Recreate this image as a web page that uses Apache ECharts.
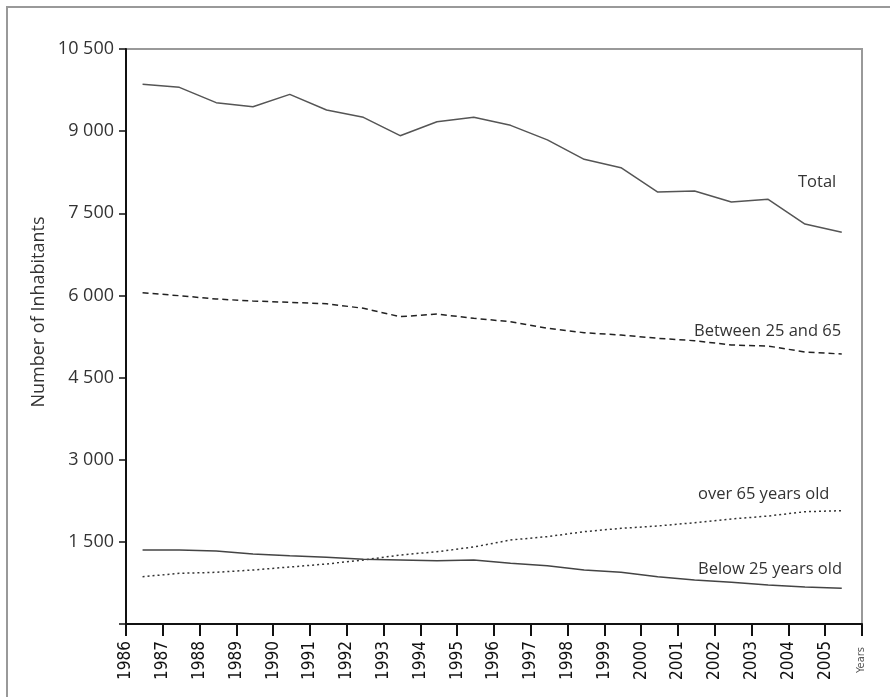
<!DOCTYPE html>
<html>
<head>
<meta charset="utf-8">
<script src="https://cdn.jsdelivr.net/npm/echarts@6/dist/echarts.min.js"></script>
<style>
  html, body { margin: 0; padding: 0; background: #fff; }
  #chart { width: 890px; height: 697px; }
</style>
</head>
<body>
<div id="chart"></div>
<script>
// years on the x axis, values plotted mid-year
const years = [1986, 1987, 1988, 1989, 1990, 1991, 1992, 1993, 1994, 1995,
  1996, 1997, 1998, 1999, 2000, 2001, 2002, 2003, 2004, 2005];
const midYear = 0.45;

const total = [9855, 9800, 9520, 9446, 9672, 9386, 9252, 8917, 9172, 9252,
  9106, 8840, 8485, 8333, 7888, 7907, 7706, 7755, 7304, 7152];
const between25and65 = [6050, 5995, 5935, 5898, 5874, 5849, 5765, 5612, 5660, 5582,
  5520, 5400, 5320, 5277, 5217, 5173, 5095, 5076, 4967, 4930];
const over65 = [864, 925, 944, 986, 1041, 1096, 1169, 1260, 1320, 1406,
  1534, 1595, 1686, 1747, 1790, 1850, 1917, 1972, 2051, 2069];
const below25 = [1351, 1351, 1333, 1278, 1247, 1218, 1181, 1169, 1157, 1169,
  1108, 1065, 986, 944, 864, 803, 761, 712, 676, 652];

const yTicks = [0, 1500, 3000, 4500, 6000, 7500, 9000, 10500];

const font = "'Open Sans', 'Noto Sans', sans-serif";
const narrow = "'Liberation Sans Narrow', 'DejaVu Sans Condensed', sans-serif";

function pts(arr) {
  return arr.map((v, i) => [years[i] + midYear, v]);
}

function lineSeries(name, arr, color, type) {
  return {
    name: name,
    type: "line",
    data: pts(arr),
    symbol: "none",
    lineStyle: { color: color, width: 1.5, type: type },
    silent: true,
  };
}

const chart = echarts.init(document.getElementById("chart"));
chart.setOption({
  animation: false,
  grid: {
    left: 126, top: 49, right: 28, bottom: 73,
    show: true, borderColor: "#999", borderWidth: 2,
  },
  xAxis: {
    type: "value",
    min: 1986, max: 2006, interval: 1,
    splitLine: { show: false },
    axisLine: { lineStyle: { color: "#111", width: 2 } },
    axisTick: { length: 12, lineStyle: { color: "#111", width: 2 } },
    axisLabel: {
      rotate: 90, margin: 17, color: "#111",
      fontFamily: narrow, fontSize: 17,
      formatter: (v) => (v === 2006 ? "" : String(v)),
    },
  },
  yAxis: {
    type: "value",
    min: yTicks[0], max: yTicks[yTicks.length - 1], interval: 1500,
    splitLine: { show: false },
    axisLine: { show: true, lineStyle: { color: "#111", width: 2 } },
    axisTick: { show: true, length: 7, lineStyle: { color: "#111", width: 1.5 } },
    axisLabel: {
      margin: 12, color: "#333", fontFamily: font, fontSize: 18,
      formatter: (v) => {
        if (v === 0) return "";
        return String(v).replace(/\B(?=(\d{3})+(?!\d))/g, " ");
      },
    },
  },
  series: [
    lineSeries("Total", total, "#555", "solid"),
    lineSeries("Between 25 and 65", between25and65, "#222", [6, 4]),
    lineSeries("over 65 years old", over65, "#333", [2, 3]),
    lineSeries("Below 25 years old", below25, "#444", "solid"),
  ],
  graphic: [
    {
      type: "rect", z: -1, silent: true,
      shape: { x: 7, y: 7, width: 1000, height: 1000 },
      style: { fill: "none", stroke: "#999", lineWidth: 2 },
    },
    {
      type: "text", x: 39, y: 312, rotation: Math.PI / 2,
      style: {
        text: "Number of Inhabitants", fill: "#333", font: "18px " + font,
        textAlign: "center", textVerticalAlign: "middle",
      },
    },
    {
      type: "text", x: 861, y: 660, rotation: Math.PI / 2,
      style: {
        text: "Years", fill: "#555", font: "11px " + narrow,
        textAlign: "center", textVerticalAlign: "middle",
      },
    },
    {
      type: "text", x: 798, y: 182,
      style: { text: "Total", fill: "#333", font: "16.5px " + font, textVerticalAlign: "middle" },
    },
    {
      type: "text", x: 694, y: 331,
      style: { text: "Between 25 and 65", fill: "#333", font: "16.5px " + font, textVerticalAlign: "middle" },
    },
    {
      type: "text", x: 698, y: 494,
      style: { text: "over 65 years old", fill: "#333", font: "16.5px " + font, textVerticalAlign: "middle" },
    },
    {
      type: "text", x: 698, y: 569,
      style: { text: "Below 25 years old", fill: "#333", font: "16.5px " + font, textVerticalAlign: "middle" },
    },
  ],
});
</script>
</body>
</html>
